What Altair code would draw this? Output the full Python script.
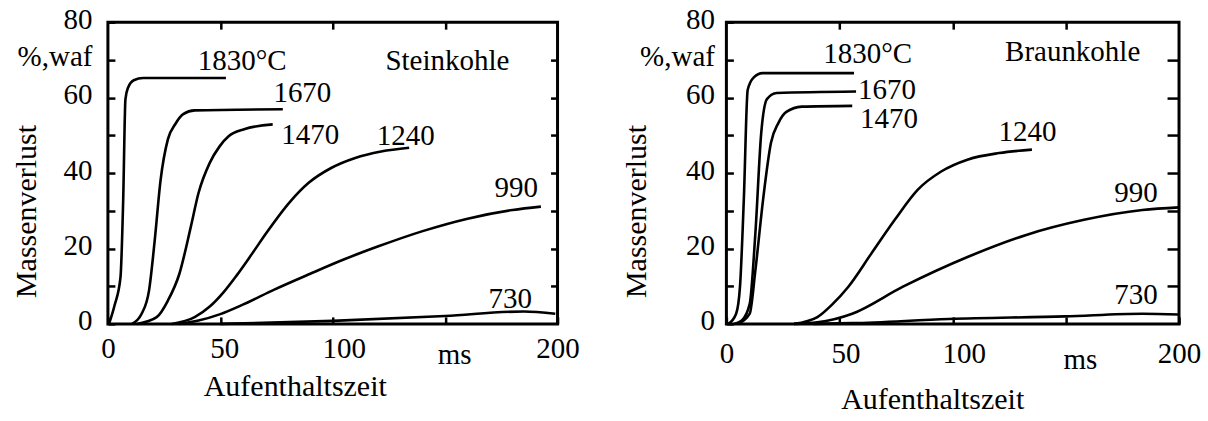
import altair as alt
import pandas as pd

FONT = "Liberation Serif"

# ---------------- Steinkohle (left panel) ----------------
st_1830_x = [0.5, 3, 5.6, 6.8, 7.8, 9, 11.5, 15.7, 52.5]
st_1830_y = [0, 5, 12.4, 33, 59.6, 62.7, 64.6, 65.2, 65.2]
st_1670_x = [10.7, 15, 18.3, 20.8, 23.4, 26.7, 30, 33.5, 38.6, 77.8]
st_1670_y = [0, 2.7, 8.9, 22, 38, 49, 53, 55.6, 56.6, 56.9]
st_1470_x = [13, 21.7, 26.7, 31.8, 36.9, 40.3, 45.3, 49.6, 53.8, 60.6, 73.3]
st_1470_y = [0, 1.8, 6.2, 13.3, 25.8, 34.7, 42.7, 47, 49.8, 51.6, 52.9]
st_1240_x = [28.4, 38.6, 45.3, 51.3, 57.2, 64, 70.7, 80.9, 89.3, 99.5, 110, 121.5, 134]
st_1240_y = [0, 1.8, 4.6, 8.3, 12.8, 18.5, 24.3, 32.3, 37.4, 41.4, 44.0, 45.7, 46.7]
st_990_x = [31.8, 40.3, 50, 60, 74, 90, 104.6, 120, 140, 160, 180, 192.6]
st_990_y = [0, 0.9, 2.6, 5.1, 9.1, 13.3, 17, 20.5, 24.6, 27.9, 30.2, 31.1]
st_730_x = [50, 100, 150, 185, 199]
st_730_y = [0, 0.8, 2.1, 3.3, 2.7]

st_label_text = ["1830°C", "1670", "1470", "1240", "990", "730", "Steinkohle"]
st_label_x = [59.7, 86.5, 90, 132.5, 181.6, 179, 151]
st_label_y = [69.8, 61.3, 50.2, 49.8, 36, 6.7, 69.8]

# ---------------- Braunkohle (right panel) ----------------
br_1830_x = [0.85, 4.3, 6, 7.7, 9.4, 12, 16, 56.4]
br_1830_y = [0, 2.7, 9.8, 33, 62, 65.3, 66.5, 66.5]
br_1670_x = [3.4, 6.8, 10.3, 12.8, 15.4, 17.9, 22.2, 57.3]
br_1670_y = [0, 0.9, 5.3, 24, 50.7, 59.6, 61.2, 61.6]
br_1470_x = [5.1, 10.3, 12.8, 16.2, 19.7, 23, 26.5, 33.3, 55.6]
br_1470_y = [0, 2.7, 14.2, 32.9, 48, 53.3, 56.2, 57.6, 57.8]
br_1240_x = [29.9, 40.2, 47, 53.8, 64.1, 74.4, 84.6, 94.9, 106.8, 120.5, 135]
br_1240_y = [0, 1.8, 5.3, 9.8, 18.7, 27.6, 35.6, 40.4, 43.6, 45.3, 46.2]
br_990_x = [29.9, 40.2, 55.6, 77.8, 106.8, 132.5, 158, 183.8, 200]
br_990_y = [0, 0.4, 2.7, 9.8, 17.8, 23.6, 27.6, 30.2, 30.9]
br_730_x = [38.5, 55.6, 98.3, 149.6, 183.8, 200]
br_730_y = [0, 0.2, 1.3, 2, 2.7, 2.5]

br_label_text = ["1830°C", "1670", "1470", "1240", "990", "730", "Braunkohle"]
br_label_x = [62.4, 71, 71.8, 133, 181, 181, 153]
br_label_y = [71.6, 62.1, 54.4, 51, 34.7, 7.6, 72]

x_tick_values = [0, 50, 100, 150, 200]
y_tick_values = [0, 10, 20, 30, 40, 50, 60, 70, 80]
top_tick_values = [50, 100, 150]
right_tick_values = [10, 20, 30, 40, 50, 60, 70]


def lines_df(series):
    rows = []
    for name, xs, ys in series:
        for i, (xv, yv) in enumerate(zip(xs, ys)):
            rows.append({"series": name, "x": xv, "y": yv, "order": i})
    return pd.DataFrame(rows)


def panel(series, ltext, lx, ly, width, geo):
    df = lines_df(series)
    lab = pd.DataFrame({"text": ltext, "x": lx, "y": ly})
    xscale = alt.Scale(domain=[0, 200], nice=False, zero=False)
    yscale = alt.Scale(domain=[0, 80], nice=False, zero=False)

    x_axis = alt.Axis(
        orient="bottom",
        values=x_tick_values,
        labelExpr="datum.value == 150 ? 'ms' : datum.label",
        tickSize=7, offset=-7, domain=False, grid=False,
        labelFlush=False, labelOverlap=False,
        labelPadding={"condition": {"test": "datum.value == 150", "value": geo["ms_pad"]},
                      "value": geo["x_pad"]},
        labelOffset={"condition": [
            {"test": "datum.value == 50", "value": geo["off50"]},
            {"test": "datum.value == 100", "value": geo["off100"]},
            {"test": "datum.value == 150", "value": geo["off150"]},
        ], "value": 0},
        labelFont=FONT, labelFontSize=29, labelColor="black",
        tickColor="black", tickWidth=2.5,
        title="Aufenthaltszeit", titleX=geo["xt_x"], titleY=geo["xt_y"],
        titleAlign="center", titleBaseline="middle", titleAngle=0,
        titleFont=FONT, titleFontSize=30, titleFontWeight="normal", titleColor="black",
    )
    y_axis = alt.Axis(
        orient="left",
        values=y_tick_values,
        labelExpr="datum.value == 70 ? '%,waf' : (datum.value % 20 == 0 ? datum.label : '')",
        tickSize=7, offset=-7, domain=False, grid=False,
        labelFlush=False, labelOverlap=False, labelPadding=geo["y_pad"],
        labelOffset=-3,
        labelFont=FONT, labelFontSize=29, labelColor="black",
        tickColor="black", tickWidth=2.5,
        title="Massenverlust", titleX=geo["yt_x"], titleY=189,
        titleAlign="center", titleBaseline="middle", titleAngle=270,
        titleFont=FONT, titleFontSize=30, titleFontWeight="normal", titleColor="black",
    )
    top_axis = alt.Axis(
        orient="top", values=top_tick_values, labels=False, title=None,
        tickSize=7, offset=-7, domain=False, grid=False,
        tickColor="black", tickWidth=2.5,
    )
    right_axis = alt.Axis(
        orient="right", values=right_tick_values, labels=False, title=None,
        tickSize=geo["rt"], offset=-geo["rt"], domain=False, grid=False,
        tickColor="black", tickWidth=2.5,
    )

    line = alt.Chart(df).mark_line(
        interpolate="monotone", color="black", strokeWidth=2.6
    ).encode(
        x=alt.X("x:Q", scale=xscale, axis=x_axis),
        y=alt.Y("y:Q", scale=yscale, axis=y_axis),
        detail="series:N",
        order="order:Q",
    )
    text = alt.Chart(lab).mark_text(
        font=FONT, fontSize=29, align="center", baseline="middle", color="black"
    ).encode(
        x=alt.X("x:Q", scale=xscale, axis=top_axis),
        y=alt.Y("y:Q", scale=yscale, axis=right_axis),
        text="text:N",
    )
    return (
        alt.layer(line, text)
        .resolve_axis(x="independent", y="independent")
        .properties(width=width, height=302)
    )


left = panel(
    [("1830", st_1830_x, st_1830_y), ("1670", st_1670_x, st_1670_y),
     ("1470", st_1470_x, st_1470_y), ("1240", st_1240_x, st_1240_y),
     ("990", st_990_x, st_990_y), ("730", st_730_x, st_730_y)],
    st_label_text, st_label_x, st_label_y, 450,
    {"x_pad": 11, "ms_pad": 17, "y_pad": 16, "xt_x": 187, "xt_y": 70, "yt_x": -88,
     "rt": 7, "off50": 4, "off100": 11, "off150": 9},
)
right = panel(
    [("1830", br_1830_x, br_1830_y), ("1670", br_1670_x, br_1670_y),
     ("1470", br_1470_x, br_1470_y), ("1240", br_1240_x, br_1240_y),
     ("990", br_990_x, br_990_y), ("730", br_730_x, br_730_y)],
    br_label_text, br_label_x, br_label_y, 453,
    {"x_pad": 16, "ms_pad": 22, "y_pad": 12, "xt_x": 206, "xt_y": 83, "yt_x": -97,
     "rt": 12, "off50": 6, "off100": 11, "off150": 14},
)

chart = alt.hconcat(left, right, spacing=169, bounds="flush").configure(
    padding={"left": 10, "top": 3, "right": 5, "bottom": 5},
    background="white",
).configure_view(stroke="black", strokeWidth=3)

chart.save("out.html", embed_options={"renderer": "svg", "actions": False})
